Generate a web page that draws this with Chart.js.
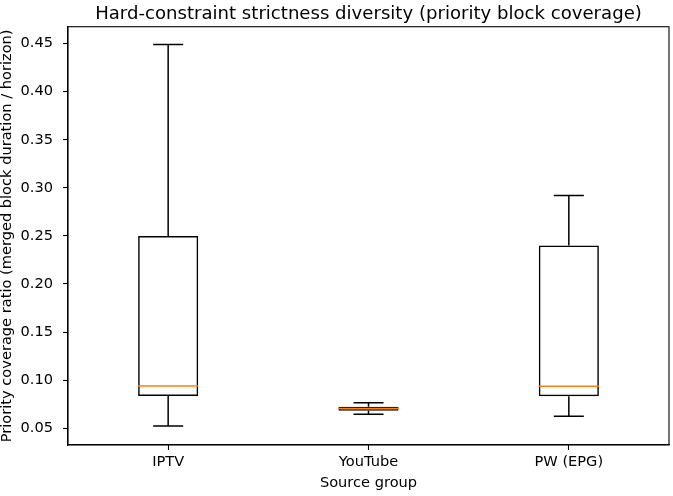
<!DOCTYPE html>
<html>
<head>
<meta charset="utf-8">
<script src="https://cdn.jsdelivr.net/npm/chart.js@4/dist/chart.umd.min.js"></script>
<style>
  html, body { margin: 0; padding: 0; background: #fff; }
  #wrap { width: 673px; height: 496px; position: relative; }
</style>
</head>
<body>
<div id="wrap"><canvas id="c" width="673" height="496"></canvas></div>
<script>
// ---- data ----
const categories = ['IPTV', 'YouTube', 'PW (EPG)'];
const whiskerLow  = [0.0524, 0.0645, 0.0625];
const q1          = [0.0836, 0.0683, 0.0833];
const median      = [0.0940, 0.0706, 0.0936];
const q3          = [0.2500, 0.0724, 0.2400];
const whiskerHigh = [0.4490, 0.0766, 0.2920];
const yTicks = [0.05, 0.10, 0.15, 0.20, 0.25, 0.30, 0.35, 0.40, 0.45];
const yMin = 0.0326, yMax = 0.4675;

const FONT = 'DejaVu Sans';
Chart.defaults.color = '#000';
Chart.defaults.font.family = FONT;

const boxPlugin = {
  id: 'boxExtras',
  afterDatasetsDraw(chart) {
    const ctx = chart.ctx;
    const xs = chart.scales.x, ys = chart.scales.y;
    const meta = chart.getDatasetMeta(0);
    ctx.save();
    for (let i = 0; i < categories.length; i++) {
      const x = xs.getPixelForValue(i);
      const bw = meta.data[i].width;
      const capHalf = bw / 4;
      ctx.strokeStyle = '#000';
      ctx.lineWidth = 1.5;
      ctx.beginPath();
      ctx.moveTo(x, ys.getPixelForValue(q3[i]));
      ctx.lineTo(x, ys.getPixelForValue(whiskerHigh[i]));
      ctx.moveTo(x, ys.getPixelForValue(q1[i]));
      ctx.lineTo(x, ys.getPixelForValue(whiskerLow[i]));
      const yh = ys.getPixelForValue(whiskerHigh[i]);
      const yl = ys.getPixelForValue(whiskerLow[i]);
      ctx.moveTo(x - capHalf, yh); ctx.lineTo(x + capHalf, yh);
      ctx.moveTo(x - capHalf, yl); ctx.lineTo(x + capHalf, yl);
      ctx.stroke();
      const ym = ys.getPixelForValue(median[i]);
      ctx.strokeStyle = '#ff7f0e';
      ctx.beginPath();
      ctx.moveTo(x - bw / 2, ym); ctx.lineTo(x + bw / 2, ym);
      ctx.stroke();
    }
    const a = chart.chartArea;
    ctx.strokeStyle = '#000';
    ctx.lineWidth = 1.1;
    ctx.strokeRect(a.left, a.top, a.right - a.left, a.bottom - a.top);
    ctx.restore();
  }
};

new Chart(document.getElementById('c'), {
  type: 'bar',
  data: {
    labels: categories,
    datasets: [{
      data: categories.map((_, i) => [q1[i], q3[i]]),
      backgroundColor: 'rgba(255,255,255,0)',
      borderColor: '#000',
      borderWidth: 1.5,
      borderSkipped: false,
      categoryPercentage: 1.0,
      barPercentage: 0.3
    }]
  },
  plugins: [boxPlugin],
  options: {
    responsive: false,
    animation: false,
    devicePixelRatio: 1,
    layout: { padding: { left: 0, right: 4, top: 0, bottom: 0 } },
    plugins: {
      legend: { display: false },
      tooltip: { enabled: false },
      title: {
        display: true,
        fullSize: false,
        text: 'Hard-constraint strictness diversity (priority block coverage)',
        font: { family: FONT, size: 18.1, weight: 'normal' },
        color: '#000',
        padding: { top: 3, bottom: 2 }
      }
    },
    scales: {
      x: {
        type: 'category',
        offset: true,
        grid: { display: true, drawOnChartArea: false, drawTicks: true, tickLength: 5, tickColor: '#000', tickWidth: 1.1, offset: false },
        border: { display: true, color: '#000', width: 1.1 },
        ticks: { font: { family: FONT, size: 14.6 }, color: '#000', padding: 3, maxRotation: 0 },
        title: { display: true, text: 'Source group', font: { family: FONT, size: 14.6 }, color: '#000', padding: { top: 0, bottom: 4 } },
        afterFit(s) { s.height = 51; }
      },
      y: {
        type: 'linear',
        min: yMin,
        max: yMax,
        afterBuildTicks(s) { s.ticks = yTicks.map(v => ({ value: v })); },
        grid: { display: true, drawOnChartArea: false, drawTicks: true, tickLength: 5, tickColor: '#000', tickWidth: 1.1 },
        border: { display: true, color: '#000', width: 1.1 },
        ticks: { font: { family: FONT, size: 14.6 }, color: '#000', padding: 10, callback: v => Number(v).toFixed(2) },
        title: { display: true, text: 'Priority coverage ratio (merged block duration / horizon)', font: { family: FONT, size: 14.6 }, color: '#000', padding: { top: -2, bottom: 0 } },
        afterFit(s) { s.width = 68; }
      }
    }
  }
});
</script>
</body>
</html>
